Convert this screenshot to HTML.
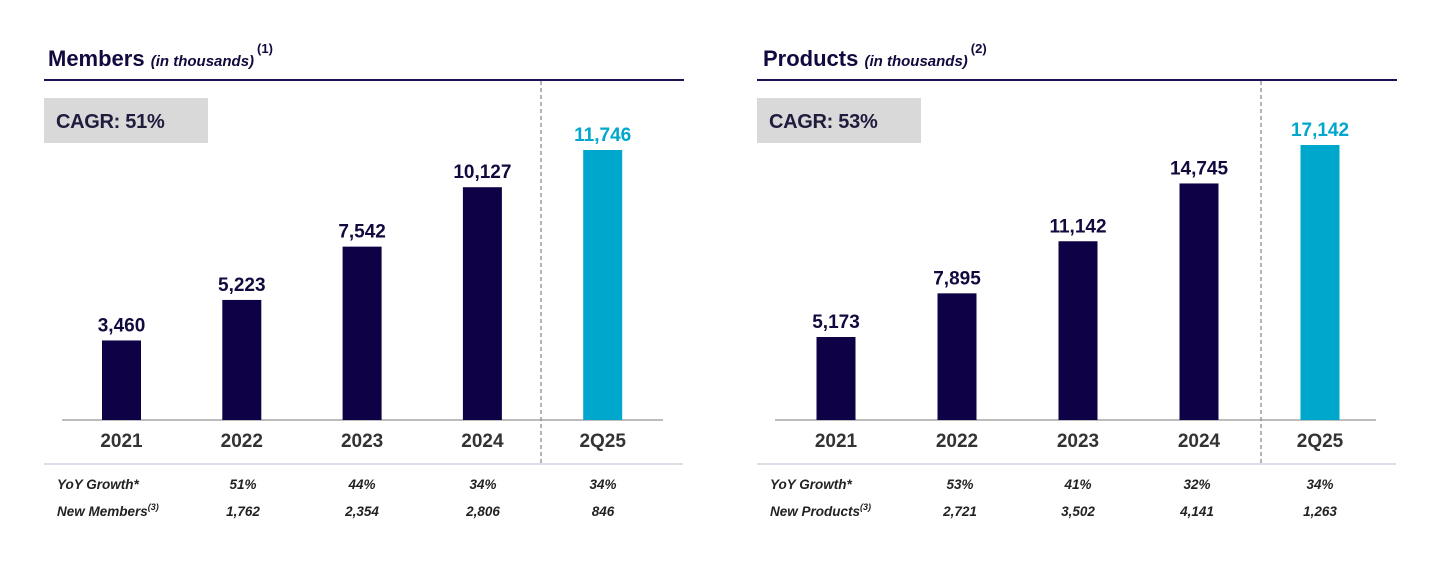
<!DOCTYPE html>
<html><head><meta charset="utf-8"><style>
html,body{margin:0;padding:0;background:#fff;width:1456px;height:581px;overflow:hidden}
svg{display:block;font-family:"Liberation Sans",sans-serif}
</style></head><body>
<svg id="svg" width="1456" height="581"></svg>
<script>
const categories = ["2021","2022","2023","2024","2Q25"];
const membersValues = [3460,5223,7542,10127,11746];
const productsValues = [5173,7895,11142,14745,17142];
const membersValueLabels = ["3,460","5,223","7,542","10,127","11,746"];
const productsValueLabels = ["5,173","7,895","11,142","14,745","17,142"];
const membersYoY = ["51%","44%","34%","34%"];
const membersNew = ["1,762","2,354","2,806","846"];
const productsYoY = ["53%","41%","32%","34%"];
const productsNew = ["2,721","3,502","4,141","1,263"];

const NS="http://www.w3.org/2000/svg";
const svg=document.getElementById('svg');
function mk(tag,attrs,parent,text){const e=document.createElementNS(NS,tag);for(const k in attrs)e.setAttribute(k,attrs[k]);if(text!==undefined)e.textContent=text;(parent||svg).appendChild(e);return e;}

function drawChart(o){
  const g=mk('g',{});
  
  
  const t=mk('text',{x:o.tx,y:66,fill:'#12093f','font-size':22,'font-weight':'bold'},g);
  
  
  mk('tspan',{},t,o.title+' ');
  mk('tspan',{'font-size':15,'font-style':'italic'},t,'(in thousands)');
  mk('tspan',{'font-size':13,dy:-13,dx:3},t,o.note);
  const rule=mk('line',{x1:o.x0,x2:o.x0+640,y1:80,y2:80,stroke:'#1c1458','stroke-width':2},g);
  
  
  const box=mk('rect',{x:o.x0,y:98,width:164,height:45,fill:'#d9d9d9'},g);
  
  
  const ct=mk('text',{x:o.x0+12,y:128,fill:'#1f1c3d','font-size':20,'font-weight':'bold','letter-spacing':'-0.3'},g,o.cagr);
  
  
  const base=420;
  const yScale=v=>base-v*o.k;
  const xc=i=>o.c0+i*o.step;
  const ax=mk('line',{x1:o.x0+18,x2:o.x0+619,y1:base,y2:base,stroke:'#a6a6a6','stroke-width':1.5},g);
  
  
  const dl=mk('line',{x1:o.dash,x2:o.dash,y1:81,y2:463,stroke:'#8c8c8c','stroke-width':1.3,'stroke-dasharray':'4,3'},g);
  
  
  o.values.forEach((v,i)=>{
    const last=i===o.values.length-1;
    const col=last?'#00a7cc':'#0f0145';
    const y=yScale(v);
    const r=mk('rect',{x:xc(i)-19.5,y:y,width:39,height:base-y,fill:col},g);
    
    
    const lt=mk('text',{x:xc(i),y:y-9,'text-anchor':'middle',fill:last?'#00a7cc':'#12093f','font-size':19,'font-weight':'bold'},g,o.labels[i]);
    
    
    const xt=mk('text',{x:xc(i),y:447,'text-anchor':'middle',fill:'#333','font-size':19,'font-weight':'bold'},g,categories[i]);
    
    
  });
  const sep=mk('line',{x1:o.x0,x2:o.x0+639,y1:464,y2:464,stroke:'#d0d3e0','stroke-width':1.5},g);
  
  
  const r1=mk('text',{x:o.x0+13,y:489,fill:'#222','font-size':13.5,'font-style':'italic','font-weight':'bold'},g,'YoY Growth*');
  
  
  const r2=mk('text',{x:o.x0+13,y:516,fill:'#222','font-size':13.5,'font-style':'italic','font-weight':'bold'},g);
  
  
  mk('tspan',{},r2,o.newLabel);
  mk('tspan',{'font-size':9,dy:-6},r2,'(3)');
  o.yoy.forEach((s,i)=>{
    const a=mk('text',{x:o.cols[i],y:489,'text-anchor':'middle',fill:'#222','font-size':13.5,'font-style':'italic','font-weight':'bold'},g,s);
    
    
    const b=mk('text',{x:o.cols[i],y:516,'text-anchor':'middle',fill:'#222','font-size':13.5,'font-style':'italic','font-weight':'bold'},g,o.nw[i]);
    
    
  });
}
drawChart({name:'members-chart',x0:44,tx:48,title:'Members',note:'(1)',cagr:'CAGR: 51%',values:membersValues,labels:membersValueLabels,k:270/11746,c0:121.5,step:120.3,dash:541,yoy:membersYoY,nw:membersNew,cols:[243,362,483,603],newLabel:'New Members'});
drawChart({name:'products-chart',x0:757,tx:763,title:'Products',note:'(2)',cagr:'CAGR: 53%',values:productsValues,labels:productsValueLabels,k:275/17142,c0:836,step:121,dash:1261,yoy:productsYoY,nw:productsNew,cols:[960,1078,1197,1320],newLabel:'New Products'});
</script>
</body></html>
